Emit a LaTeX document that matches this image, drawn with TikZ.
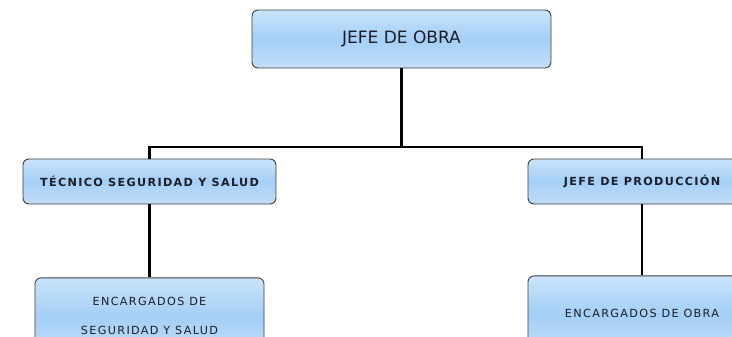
\documentclass[tikz,border=0pt]{standalone}
\usepackage{fontspec}
\setmainfont{DejaVu Sans}
\newfontfamily\trackfont[LetterSpace=12]{DejaVu Sans}
\usetikzlibrary{positioning}

\definecolor{boxtop}{HTML}{CAE3FA}
\definecolor{boxmid}{HTML}{A4CFF7}
\definecolor{boxbot}{HTML}{C2DDF7}
\definecolor{boxline}{HTML}{3C3C3C}
\definecolor{boxtext}{HTML}{1E1E28}

\begin{document}
\begin{tikzpicture}[
    x=1pt, y=1pt,
    box/.style={
        rectangle, draw=boxline, line width=0.9pt, text=boxtext,
        rounded corners=6pt, align=center, inner sep=0pt,
        top color=boxtop, bottom color=boxbot, middle color=boxmid
    },
    bossbox/.style={box, minimum width=299pt, minimum height=58pt,
        font=\fontsize{17}{20}\selectfont},
    areabox/.style={box, minimum height=45pt,
        font=\trackfont\bfseries\fontsize{11.2}{12}\selectfont},
    crewbox/.style={box, minimum height=76pt,
        font=\trackfont\fontsize{11.2}{29}\selectfont},
    link/.style={line width=2.8pt, black},
]
  \useasboundingbox (0,0) rectangle (732,-337);
  \clip (0,0) rectangle (732,-337);

  %––– Top –––––––––––––––––––––––––––––––––––––––––––––––––––
  \node (boss) [bossbox] at (401.5,-39) {JEFE DE OBRA};

  %––– Second level ––––––––––––––––––––––––––––––––––––––––––
  \node (tecnico) [areabox, minimum width=253pt] at (149.5,-181.5) {TÉCNICO SEGURIDAD Y SALUD};
  \node (produccion) [areabox, minimum width=228pt] at (642,-181.5) {JEFE DE PRODUCCIÓN};

  %––– Third level –––––––––––––––––––––––––––––––––––––––––––
  \node (encseguridad) [crewbox, minimum width=229pt, below=73pt of tecnico] {ENCARGADOS DE\\SEGURIDAD Y SALUD};
  \node (encobra) [crewbox, minimum width=228pt, below=71pt of produccion] {ENCARGADOS DE OBRA};

  %––– Connectors ––––––––––––––––––––––––––––––––––––––––––––
  \coordinate (bus) at (0,-147);
  \draw[link] (boss.south) -- (boss.south |- bus);
  \draw[link] (tecnico.north) -- (tecnico.north |- bus) -- (produccion.north |- bus) -- (produccion.north);
  \draw[link] (tecnico.south) -- (encseguridad.north);
  \draw[link] (produccion.south) -- (encobra.north);
\end{tikzpicture}
\end{document}
